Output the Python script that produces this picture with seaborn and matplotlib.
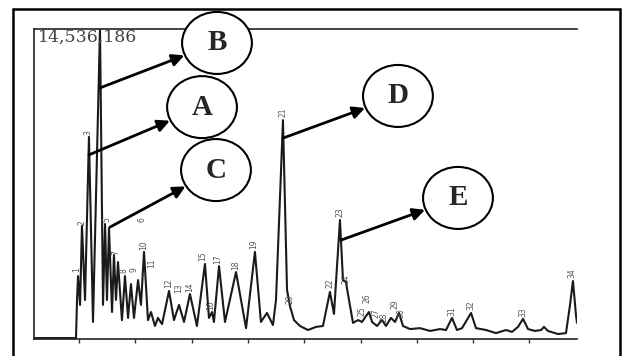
import pandas as pd
import matplotlib.pyplot as plt
from matplotlib.patches import Ellipse, FancyArrowPatch
from matplotlib.lines import Line2D
import seaborn as sns

sns.set_theme(style="white")
plt.rcParams['font.family'] = ['DejaVu Serif']

FULL_SCALE = "14,536,186"

# chromatogram trace: retention time (min) / abundance (% of full scale)
rt_min = [1.00, 4.73, 4.82, 4.91, 5.09, 5.26, 5.53, 5.88, 6.24, 6.86,
          7.13, 7.31, 7.48, 7.66, 7.93, 8.10, 8.28, 8.46, 8.81, 9.08,
          9.35, 9.61, 9.88, 10.24, 10.50, 10.77, 11.12, 11.39, 11.74, 12.01,
          12.37, 12.99, 13.43, 13.88, 14.32, 14.85, 15.47, 16.18, 16.54, 16.81,
          16.98, 17.43, 17.96, 18.94, 19.83, 20.62, 21.15, 21.69, 22.22, 22.49,
          23.11, 23.47, 23.73, 24.09, 24.62, 25.33, 26.04, 26.66, 27.28, 27.64,
          28.17, 28.44, 28.70, 28.97, 29.33, 29.77, 30.13, 30.48, 30.75, 31.02,
          31.46, 31.90, 32.26, 32.70, 33.06, 33.41, 33.77, 34.39, 35.28, 36.17,
          37.05, 37.59, 38.12, 38.56, 39.01, 39.81, 40.25, 41.14, 42.03, 42.92,
          43.45, 43.98, 44.43, 44.87, 45.49, 46.03, 46.29, 46.64, 47.53, 48.24,
          48.60, 48.86, 49.13, 49.22]
abundance_pct = [0.3, 0.3, 12.6, 20.3, 11.0, 36.5, 12.6, 65.2, 5.5, 100.0,
                 11.0, 37.1, 12.6, 35.8, 8.7, 27.1, 12.6, 24.8, 6.1, 20.3,
                 6.8, 17.7, 6.8, 19.0, 11.0, 28.1, 6.1, 8.7, 4.2, 6.8,
                 4.8, 15.5, 6.1, 11.0, 5.5, 14.5, 4.2, 24.2, 6.8, 8.7,
                 5.5, 23.5, 5.5, 21.6, 3.5, 28.1, 5.5, 8.4, 4.5, 12.6,
                 70.6, 15.8, 10.6, 6.1, 4.2, 2.9, 3.9, 4.2, 15.2, 8.1,
                 38.4, 19.0, 18.4, 12.6, 5.2, 6.1, 5.5, 7.4, 8.7, 5.5,
                 4.2, 6.1, 4.2, 6.8, 5.5, 8.4, 4.2, 3.2, 3.5, 2.6,
                 3.2, 2.9, 6.8, 2.9, 3.5, 8.4, 3.5, 2.9, 1.9, 2.9,
                 2.3, 3.9, 6.5, 3.2, 2.6, 2.9, 3.9, 2.6, 1.6, 1.9,
                 11.0, 18.7, 7.7, 5.2]

# peak number labels
peak_ids = [1, 2, 3, 5, 6, 7, 8, 9, 10, 11, 12, 13, 14, 15, 16, 17, 18, 19,
            20, 21, 22, 23, 24, 25, 26, 27, 28, 29, 30, 31, 32, 33, 34]
peak_rt = [4.82, 5.26, 5.80, 7.48, 10.59, 8.28, 8.99, 9.88, 10.77, 11.48,
           12.99, 13.88, 14.85, 16.01, 16.72, 17.34, 18.94, 20.54, 23.73, 23.11,
           27.28, 28.17, 28.70, 30.13, 30.57, 31.37, 32.08, 33.06, 33.59, 38.12,
           39.81, 44.43, 48.78]
peak_pct = [21.6, 36.8, 65.8, 37.7, 37.7, 27.1, 21.3, 21.6, 28.7, 22.9,
            16.5, 14.8, 15.2, 25.2, 9.4, 24.2, 22.3, 29.0, 11.3, 71.6,
            16.5, 39.4, 17.7, 7.4, 11.6, 6.8, 5.5, 9.7, 6.8, 7.4,
            9.4, 7.1, 19.7]

# lettered call-outs: arrow start on the peak, circle centre
callout_letters = ['B', 'A', 'C', 'D', 'E']
callout_from_rt = [6.86, 5.88, 7.75, 23.11, 28.26]
callout_from_pct = [81.0, 59.4, 36.1, 64.8, 31.9]
callout_rt = [17.25, 15.92, 17.16, 33.32, 38.65]
callout_pct = [95.5, 74.8, 54.5, 78.4, 45.5]

trace = pd.DataFrame({'rt': rt_min, 'abundance': abundance_pct})

fig = plt.figure(figsize=(6.23, 3.56), dpi=100)
ax = fig.add_axes([34 / 623, 17 / 356, 543 / 623, 310 / 356])

sns.lineplot(data=trace, x='rt', y='abundance', ax=ax, sort=False, estimator=None,
             color='#1a1a1a', linewidth=1.5)

ax.set_xlim(1.0, 49.22)
ax.set_ylim(0, 100)
ax.set_xlabel('')
ax.set_ylabel('')
ax.set_xticks(range(5, 50, 5))
ax.set_xticklabels([])
ax.set_yticks([])
ax.tick_params(axis='x', bottom=True, direction='out', length=3, width=1, color='#333')
for side in ['top', 'left', 'bottom']:
    ax.spines[side].set_color('#222')
    ax.spines[side].set_linewidth(1.2)
ax.spines['right'].set_visible(False)

ax.text(0.007, 0.958, FULL_SCALE, transform=ax.transAxes, fontsize=12.5,
        color='#444', va='baseline', ha='left')

for pid, t, p in zip(peak_ids, peak_rt, peak_pct):
    ax.text(t, p, str(pid), rotation=90, fontsize=5.5, color='#555',
            ha='center', va='bottom', family='DejaVu Sans')

for letter, t0, p0, tc, pc in zip(callout_letters, callout_from_rt, callout_from_pct,
                                  callout_rt, callout_pct):
    ell = Ellipse((tc, pc), width=6.2, height=20.0, facecolor='white',
                  edgecolor='black', linewidth=1.5, clip_on=False, zorder=5)
    ax.add_patch(ell)
    ax.text(tc, pc, letter, fontsize=21, fontweight='bold', family='Liberation Serif',
            ha='center', va='center', zorder=6, clip_on=False)
    arr = FancyArrowPatch((t0, p0), (tc, pc), patchB=ell, arrowstyle='-|>',
                          mutation_scale=18, linewidth=2.0, color='black',
                          shrinkA=0, shrinkB=0, clip_on=False, zorder=4)
    ax.add_patch(arr)

# outer frame around the figure
fl, ft, fr = 13 / 623, 1 - 9 / 356, 620 / 623
fig.add_artist(Line2D([fl, fl], [0, ft], color='black', lw=1.8))
fig.add_artist(Line2D([fl, fr], [ft, ft], color='black', lw=1.8))
fig.add_artist(Line2D([fr, fr], [0, ft], color='black', lw=1.8))

fig.savefig('out.png', dpi=100)
